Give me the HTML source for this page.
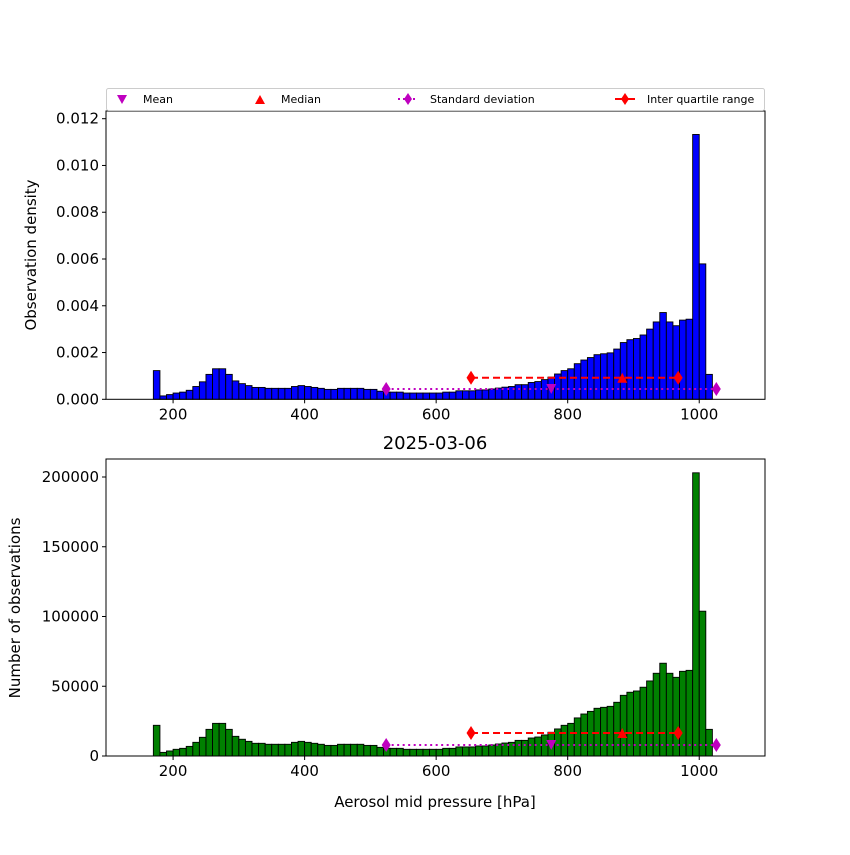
<!DOCTYPE html>
<html><head><meta charset="utf-8"><style>
html,body{margin:0;padding:0;background:#fff;}
svg text{font-family:"DejaVu Sans","Liberation Sans",sans-serif;}
</style></head><body>
<svg id="chart" width="850" height="850" viewBox="0 0 850 850" xmlns="http://www.w3.org/2000/svg">
<rect width="850" height="850" fill="#fff"/>
<g id="top"></g>
<g id="bot"></g>
<text x="435" y="449" font-size="18" text-anchor="middle">2025-03-06</text>
<text x="435" y="807" font-size="15" text-anchor="middle">Aerosol mid pressure [hPa]</text>
<text transform="translate(36,255) rotate(-90)" font-size="15" text-anchor="middle">Observation density</text>
<text transform="translate(20,608) rotate(-90)" font-size="15" text-anchor="middle">Number of observations</text>
<g>
<rect x="106.5" y="88.5" width="658" height="22" fill="#fff" stroke="#ccc" rx="2"/>
<polygon points="117,95 127,95 122,104" fill="#bf00bf"/>
<text x="143" y="103" font-size="11">Mean</text>
<polygon points="255,104 265,104 260,95" fill="red"/>
<text x="281" y="103" font-size="11">Median</text>
<line x1="398" y1="99" x2="418" y2="99" stroke="#bf00bf" stroke-width="2" stroke-dasharray="2,3"/>
<polygon points="408,93 412,99 408,105 404,99" fill="#bf00bf"/>
<text x="430" y="103" font-size="11">Standard deviation</text>
<line x1="615" y1="99" x2="635" y2="99" stroke="red" stroke-width="2"/>
<polygon points="625,93 629,99 625,105 621,99" fill="red"/>
<text x="647" y="103" font-size="11">Inter quartile range</text>
</g>
</svg>
<script>
const binStarts = [170,180,190,200,210,220,230,240,250,260,270,280,290,300,310,320,330,340,350,360,370,380,390,400,410,420,430,440,450,460,470,480,490,500,510,520,530,540,550,560,570,580,590,600,610,620,630,640,650,660,670,680,690,700,710,720,730,740,750,760,770,780,790,800,810,820,830,840,850,860,870,880,890,900,910,920,930,940,950,960,970,980,990,1000,1010];
const counts = [22000,2600,3600,4800,5500,6900,9800,13400,19100,23400,23400,19100,14100,12000,10500,9100,9100,8400,8400,8400,8400,9800,10500,9800,9100,8400,7600,7600,8400,8400,8400,8400,7600,7600,6200,5500,5500,5500,4800,4800,4800,4800,4800,4800,5500,5500,6500,6500,6500,7200,7200,7900,8600,9300,9800,11200,11200,12900,13600,15100,17000,19400,22000,23400,27300,30100,32000,34200,34900,35600,38500,43500,45700,46600,49300,53800,59300,66500,59300,56400,60700,61400,203000,103800,19100];
const binWidth = 10;
const statMean = 775, statStdLo = 524, statStdHi = 1026, statMedian = 883, statQ1 = 653, statQ3 = 968;
const yTicksTop = [0,0.002,0.004,0.006,0.008,0.010,0.012];
const yTickLabelsTop = ["0.000","0.002","0.004","0.006","0.008","0.010","0.012"];
const yTicksBot = [0,50000,100000,150000,200000];
const xTicks = [200,400,600,800,1000];

const NS="http://www.w3.org/2000/svg";
const total = counts.reduce((a,b)=>a+b,0);
const density = counts.map(c=>c/(total*binWidth));
const X0=106,X1=765,XMIN=98,XMAX=1100;
const sx = v => X0+(v-XMIN)/(XMAX-XMIN)*(X1-X0);
function mk(parent,tag,attrs){const e=document.createElementNS(NS,tag);for(const k in attrs)e.setAttribute(k,attrs[k]);parent.appendChild(e);return e;}

function panel(g,vals,color,yTop,yBot,ymax,yt,ytl,marksY1,marksY2,prefix){
  const sy = v => yBot-(v/ymax)*(yBot-yTop);
  vals.forEach((v,i)=>{
    const r=mk(g,'rect',{x:sx(binStarts[i]),y:sy(v),width:sx(binStarts[i]+binWidth)-sx(binStarts[i]),height:yBot-sy(v),fill:color,stroke:'#000','stroke-width':0.9});
    
    
  });
  const ys=sy(marksY1), yq=sy(marksY2);
  const sl=mk(g,'line',{x1:sx(statStdLo),x2:sx(statStdHi),y1:ys,y2:ys,stroke:'#bf00bf','stroke-width':2,'stroke-dasharray':'2,3.5'});
  
  
  [statStdLo,statStdHi].forEach(v=>{const d=mk(g,'polygon',{points:`${sx(v)},${ys-7} ${sx(v)+4.5},${ys} ${sx(v)},${ys+7} ${sx(v)-4.5},${ys}`,fill:'#bf00bf'});
    
    });
  const il=mk(g,'line',{x1:sx(statQ1),x2:sx(statQ3),y1:yq,y2:yq,stroke:'red','stroke-width':2,'stroke-dasharray':'7,4'});
  
  
  [statQ1,statQ3].forEach(v=>{const d=mk(g,'polygon',{points:`${sx(v)},${yq-7} ${sx(v)+4.5},${yq} ${sx(v)},${yq+7} ${sx(v)-4.5},${yq}`,fill:'red'});
    
    });
  const m=sx(statMedian);
  const md=mk(g,'polygon',{points:`${m-5},${yq+5} ${m+5},${yq+5} ${m},${yq-5}`,fill:'red'});
  
  
  const mn=sx(statMean);
  const me=mk(g,'polygon',{points:`${mn-5},${ys-5} ${mn+5},${ys-5} ${mn},${ys+5}`,fill:'#bf00bf'});
  
  
  const fr=mk(g,'rect',{x:X0,y:yTop,width:X1-X0,height:yBot-yTop,fill:'none',stroke:'#000','stroke-width':1});
  
  
  yt.forEach((t,i)=>{const y=sy(t);mk(g,'line',{x1:X0-4,x2:X0,y1:y,y2:y,stroke:'#000'});
    const tx=mk(g,'text',{x:X0-7,y:y+5,'font-size':15,'text-anchor':'end'});tx.textContent=ytl[i];
    
    });
  xTicks.forEach(t=>{const x=sx(t);mk(g,'line',{x1:x,x2:x,y1:yBot,y2:yBot+4,stroke:'#000'});
    const tx=mk(g,'text',{x:x,y:yBot+20,'font-size':15,'text-anchor':'middle'});tx.textContent=t;
    
    });
}
const stdDensity = 7900/(total*binWidth), iqrDensity = 16500/(total*binWidth);
panel(document.getElementById('top'),density,'#0000ff',111,399.3,0.012*(399.3-111)/(399.3-118.7),yTicksTop,yTickLabelsTop,stdDensity,iqrDensity,'top');
panel(document.getElementById('bot'),counts,'#008000',459,756,200000*(756-459)/(756-477),yTicksBot,yTicksBot.map(String),7900,16500,'bottom');
</script>
</body></html>
